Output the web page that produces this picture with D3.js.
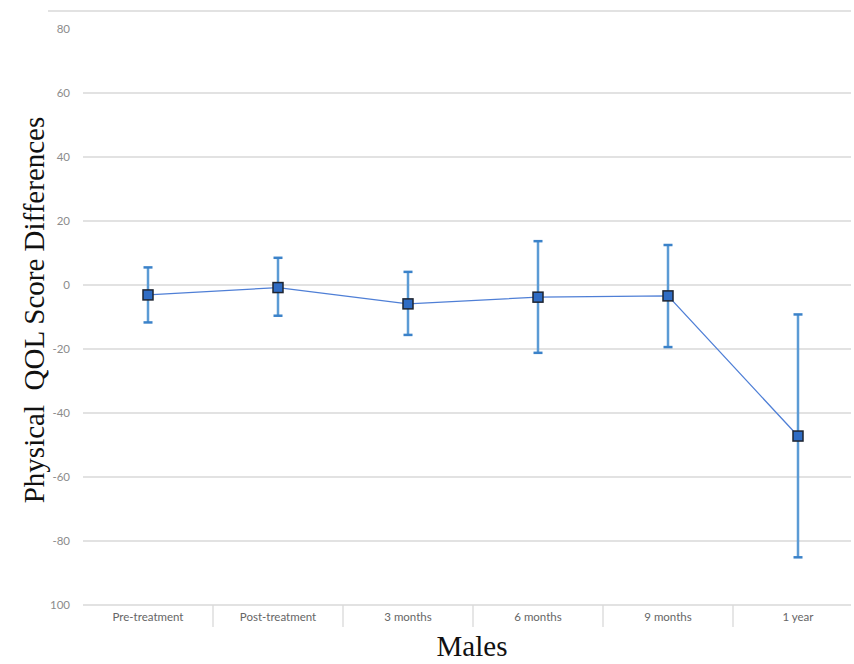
<!DOCTYPE html>
<html><head><meta charset="utf-8">
<script src="https://cdn.jsdelivr.net/npm/d3@7"></script>
<style>body{margin:0;background:#fff}svg{display:block}</style>
</head><body><svg id="c" width="854" height="664"></svg>
<script>
const categories = ["Pre-treatment","Post-treatment","3 months","6 months","9 months","1 year"];
const means = [-3.1, -0.8, -5.9, -3.8, -3.4, -47.2];
const errPlus = [8.6, 9.3, 10.0, 17.5, 15.9, 38.0];
const errMinus = [8.6, 8.8, 9.7, 17.4, 16.0, 37.9];
const yTicks = [80, 60, 40, 20, 0, -20, -40, -60, -80, -100];
const yTickLabels = ["80","60","40","20","0","-20","-40","-60","-80","100"];

const svg = d3.select("#c");
const x = d3.scaleBand().domain(categories).range([83, 863]);
const y = d3.scaleLinear().domain([-100, 80]).range([605, 29]);
const right = 851;

svg.append("line").attr("x1",48).attr("x2",right).attr("y1",11).attr("y2",11)
  .attr("stroke","#d9d9d9").attr("stroke-width",1.5);

svg.append("g").selectAll("line").data(yTicks.filter(d=>d!==80 && d!==-100)).join("line")
  .attr("x1",83).attr("x2",right).attr("y1",d=>y(d)).attr("y2",d=>y(d))
  .attr("stroke","#d9d9d9").attr("stroke-width",1.3);

svg.append("g").selectAll("text").data(yTicks).join("text")
  .attr("x",70).attr("y",d=>y(d)).attr("dy","0.35em").attr("text-anchor","end")
  .attr("font-family","Lato, 'Open Sans', sans-serif").attr("font-size",11.5).attr("fill","#8c8c8c")
  .text((d,i)=>yTickLabels[i]);

svg.append("line").attr("x1",83).attr("x2",right).attr("y1",y(-100)).attr("y2",y(-100))
  .attr("stroke","#d9d9d9").attr("stroke-width",1.5);
svg.append("g").selectAll("line").data(categories.slice(1)).join("line")
  .attr("x1",d=>x(d)).attr("x2",d=>x(d)).attr("y1",y(-100)).attr("y2",y(-100)+22)
  .attr("stroke","#d9d9d9").attr("stroke-width",1.3);
svg.append("g").selectAll("text").data(categories).join("text")
  .attr("x",d=>x(d)+x.bandwidth()/2).attr("y",y(-100)+16).attr("text-anchor","middle")
  .attr("font-family","Lato, 'Open Sans', sans-serif").attr("font-size",11.5).attr("fill","#666")
  .text(d=>d);

const cx = d=>x(d)+x.bandwidth()/2;
svg.append("path").datum(categories)
  .attr("d", d3.line().x(cx).y((d,i)=>y(means[i])))
  .attr("fill","none").attr("stroke","#4f7fd6").attr("stroke-width",1.3);

const eb = svg.append("g").attr("stroke","#5b9bd5").attr("stroke-width",2.5);
categories.forEach((c,i)=>{
  const top = y(means[i]+errPlus[i]), bot = y(means[i]-errMinus[i]);
  eb.append("line").attr("x1",cx(c)).attr("x2",cx(c)).attr("y1",top).attr("y2",bot);
  eb.append("line").attr("x1",cx(c)-4.5).attr("x2",cx(c)+4.5).attr("y1",top).attr("y2",top).attr("stroke","#3b82c9");
  eb.append("line").attr("x1",cx(c)-4.5).attr("x2",cx(c)+4.5).attr("y1",bot).attr("y2",bot).attr("stroke","#3b82c9");
});

svg.append("g").selectAll("rect").data(categories).join("rect")
  .attr("x",d=>cx(d)-5).attr("y",(d,i)=>y(means[i])-5).attr("width",10).attr("height",10)
  .attr("fill","#2f6cc4").attr("stroke","#1e2430").attr("stroke-width",1.5);

svg.append("text").attr("transform","translate(44,310) rotate(-90)").attr("text-anchor","middle")
  .attr("font-family","'Liberation Serif', 'Times New Roman', serif").attr("font-size",29).attr("fill","#111")
  .style("white-space","pre")
  .text("Physical  QOL Score Differences");
svg.append("text").attr("x",472).attr("y",656).attr("text-anchor","middle")
  .attr("font-family","'Liberation Serif', 'Times New Roman', serif").attr("font-size",29).attr("fill","#111")
  .text("Males");
</script></body></html>
